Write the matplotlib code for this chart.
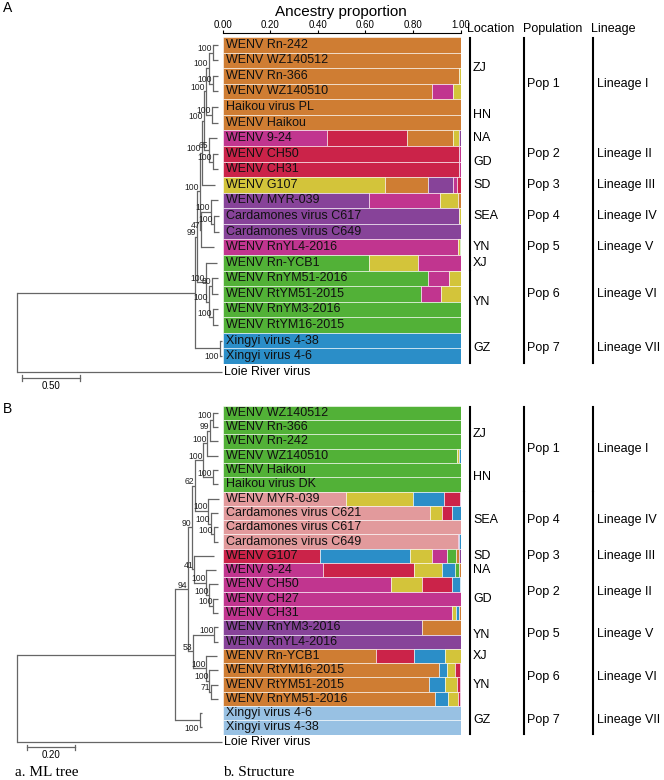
import numpy as np
import matplotlib
matplotlib.use("Agg")
import matplotlib.pyplot as plt

plt.rcParams['font.family'] = ['Liberation Sans', 'DejaVu Sans']

# ---------------- data ----------------
# panel A: STRUCTURE (K=7) ancestry proportions, one list per cluster
names_a = ['WENV Rn-242', 'WENV WZ140512', 'WENV Rn-366', 'WENV WZ140510', 'Haikou virus PL',
           'WENV Haikou', 'WENV 9-24', 'WENV CH50', 'WENV CH31', 'WENV G107', 'WENV MYR-039',
           'Cardamones virus C617', 'Cardamones virus C649', 'WENV RnYL4-2016', 'WENV Rn-YCB1',
           'WENV RnYM51-2016', 'WENV RtYM51-2015', 'WENV RnYM3-2016', 'WENV RtYM16-2015',
           'Xingyi virus 4-38', 'Xingyi virus 4-6']
a_orange = [1, 1, .995, .88, 1, 1, .19, 0, 0, .18, .011, 0, 0, 0, 0, 0, 0, 0, 0, 0, 0]
a_magenta = [0, 0, 0, .09, 0, 0, .44, .005, .005, .018, .298, 0, 0, .989, .179, .091, .084, 0, 0, 0, 0]
a_crimson = [0, 0, 0, 0, 0, 0, .337, .995, .995, .014, 0, 0, 0, 0, 0, 0, 0, 0, 0, 0, 0]
a_yellow = [0, 0, .005, .03, 0, 0, .027, 0, 0, .683, .077, .005, 0, .007, .204, .047, .08, 0, 0, 0, 0]
a_purple = [0, 0, 0, 0, 0, 0, .006, 0, 0, .105, .614, .995, 1, 0, 0, 0, 0, 0, 0, 0, 0]
a_green = [0, 0, 0, 0, 0, 0, 0, 0, 0, 0, 0, 0, 0, .004, .617, .862, .836, 1, 1, 0, 0]
a_blue = [0, 0, 0, 0, 0, 0, 0, 0, 0, 0, 0, 0, 0, 0, 0, 0, 0, 0, 0, 1, 1]

# panel B: STRUCTURE (K=9)
names_b = ['WENV WZ140512', 'WENV Rn-366', 'WENV Rn-242', 'WENV WZ140510', 'WENV Haikou',
           'Haikou virus DK', 'WENV MYR-039', 'Cardamones virus C621', 'Cardamones virus C617',
           'Cardamones virus C649', 'WENV G107', 'WENV 9-24', 'WENV CH50', 'WENV CH27', 'WENV CH31',
           'WENV RnYM3-2016', 'WENV RnYL4-2016', 'WENV Rn-YCB1', 'WENV RtYM16-2015',
           'WENV RtYM51-2015', 'WENV RnYM51-2016', 'Xingyi virus 4-6', 'Xingyi virus 4-38']
b_green = [1, 1, 1, .986, 1, 1, 0, 0, 0, 0, .035, .014, 0, 0, 0, 0, 0, 0, 0, 0, 0, 0, 0]
b_pink = [0, 0, 0, 0, 0, 0, .52, .872, 1, .99, 0, 0, 0, 0, 0, 0, 0, 0, 0, 0, 0, 0, 0]
b_crimson = [0, 0, 0, 0, 0, 0, .066, .042, 0, 0, .41, .38, .126, 0, 0, 0, 0, .16, .02, .013, .008, 0, 0]
b_magenta = [0, 0, 0, 0, 0, 0, .003, 0, 0, .005, .063, .424, .71, 1, .965, 0, 0, 0, .003, .003, .004, 0, 0]
b_purple = [0, 0, 0, 0, 0, 0, 0, 0, 0, 0, .008, 0, 0, 0, 0, .84, 1, 0, 0, 0, 0, 0, 0]
b_orange = [0, 0, 0, 0, 0, 0, 0, 0, 0, 0, .013, .008, 0, 0, .007, .16, 0, .644, .91, .868, .893, 0, 0]
b_yellow = [0, 0, 0, .007, 0, 0, .279, .052, 0, 0, .094, .12, .128, 0, .014, 0, 0, .066, .032, .05, .039, 0, 0]
b_blue = [0, 0, 0, .007, 0, 0, .132, .034, 0, .005, .377, .054, .034, 0, .014, 0, 0, .13, .035, .066, .056, 0, 0]
b_lightblue = [0] * 21 + [1, 1]

# ML trees (tips = row index, 'out' = Loie River virus), support values as node labels
tree_a = """((((((((((0:0.043,1:0.043)100:0.034,(2:0.043,3:0.043)100:0.034)100:0.026,
(4:0.052,5:0.052)100:0.052)100:0.017,(6:0.069,(7:0.043,8:0.043)100:0.034)65:0.043)100:0.017,
9:0.112)100:0.017,((10:0.060,(11:0.043,12:0.043)100:0.026)100:0.086,13:0.112)47:0.009)100:0.026,
(14:0.095,((15:0.052,16:0.052)80:0.026,(17:0.043,18:0.043)100:0.034)100:0.026)100:0.078)99:0.017,
(19:0.017,20:0.017)100:0.216):1.534,out:1.767);"""
tree_b = """(((((((((0:0.021,1:0.021)100:0.012,2:0.033)99:0.012,3:0.045)100:0.017,
(4:0.021,5:0.021)100:0.041)100:0.033,(6:0.045,(7:0.029,(8:0.017,9:0.017)100:0.012)100:0.012)100:0.054)62:0.012,
(10:0.083,(11:0.041,(12:0.037,(13:0.021,14:0.021)100:0.017)100:0.012)100:0.05)41:0.008)90:0.017,
((15:0.017,16:0.017)100:0.087,(17:0.045,(18:0.037,(19:0.029,20:0.029)71:0.008)100:0.012)100:0.054)53:0.021)94:0.054,
(21:0.01,22:0.01)100:0.103):0.653,out:0.847);"""
scale_a = 0.5
scale_b = 0.2

# group annotations (first row, last row)
loc_a = ['ZJ', 'HN', 'NA', 'GD', 'SD', 'SEA', 'YN', 'XJ', 'YN', 'GZ']
loc_a_rows = [(0, 3), (4, 5), (6, 6), (7, 8), (9, 9), (10, 12), (13, 13), (14, 14), (15, 18), (19, 20)]
pop_a = ['Pop 1', 'Pop 2', 'Pop 3', 'Pop 4', 'Pop 5', 'Pop 6', 'Pop 7']
lin_a = ['Lineage I', 'Lineage II', 'Lineage III', 'Lineage IV', 'Lineage V', 'Lineage VI', 'Lineage VII']
pop_a_rows = [(0, 5), (6, 8), (9, 9), (10, 12), (13, 13), (14, 18), (19, 20)]

loc_b = ['ZJ', 'HN', 'SEA', 'SD', 'NA', 'GD', 'YN', 'XJ', 'YN', 'GZ']
loc_b_rows = [(0, 3), (4, 5), (6, 9), (10, 10), (11, 11), (12, 14), (15, 16), (17, 17), (18, 20), (21, 22)]
pop_b = ['Pop 1', 'Pop 4', 'Pop 3', 'Pop 2', 'Pop 5', 'Pop 6', 'Pop 7']
lin_b = ['Lineage I', 'Lineage IV', 'Lineage III', 'Lineage II', 'Lineage V', 'Lineage VI', 'Lineage VII']
pop_b_rows = [(0, 5), (6, 9), (10, 10), (11, 14), (15, 16), (17, 20), (21, 22)]

col = {'orange': '#cf7d33', 'magenta': '#c1358f', 'crimson': '#cb2349', 'yellow': '#d3c43a',
       'purple': '#874399', 'green': '#52b137', 'blue': '#2b8ec8', 'pink': '#e29a9c',
       'lightblue': '#98c1e3'}
TREE_COL = '#666666'

W, H = 664, 780
fig = plt.figure(figsize=(W / 100, H / 100), dpi=100)


def px_axes(left, top, right, bottom):
    return fig.add_axes([left / W, 1 - bottom / H, (right - left) / W, (bottom - top) / H])


def parse_newick(s):
    s = ''.join(s.split())
    pos = 0

    def node():
        nonlocal pos
        children = []
        if s[pos] == '(':
            pos += 1
            children.append(node())
            while s[pos] == ',':
                pos += 1
                children.append(node())
            pos += 1
        start = pos
        while pos < len(s) and s[pos] not in ':,();':
            pos += 1
        label = s[start:pos]
        bl = 0.0
        if pos < len(s) and s[pos] == ':':
            pos += 1
            start = pos
            while s[pos] not in ',();':
                pos += 1
            bl = float(s[start:pos])
        return {'children': children, 'label': label, 'bl': bl}
    return node()


def layout(nd, x0, n):
    nd['x'] = x0 + nd['bl']
    if nd['children']:
        for c in nd['children']:
            layout(c, nd['x'], n)
        nd['y'] = np.mean([c['y'] for c in nd['children']])
    else:
        nd['y'] = n if nd['label'] == 'out' else int(nd['label'])


def draw_tree(ax, nd, n):
    kids = nd['children']
    for c in kids:
        ax.plot([nd['x'], c['x']], [c['y'], c['y']], color=TREE_COL, lw=0.9, clip_on=False,
                solid_capstyle='butt')
        draw_tree(ax, c, n)
    if kids:
        ys = [c['y'] for c in kids]
        ax.plot([nd['x'], nd['x']], [min(ys), max(ys)], color=TREE_COL, lw=0.9, clip_on=False)
        if nd['label']:
            below = any((not c['children']) and c['label'] == str(n - 1) for c in kids)
            ax.annotate(nd['label'], (nd['x'], nd['y']), xytext=(-0.5, -6 if below else 3),
                        textcoords='offset points', ha='right', va='center', fontsize=6.2,
                        color='#222222')
    elif nd['label'] == 'out':
        ax.annotate('Loie River virus', (nd['x'], nd['y']), xytext=(1.5, 0),
                    textcoords='offset points', ha='left', va='center', fontsize=9)


def panel(top, rh, names, comps, tree, xmax, scale, scale_x0, locs, loc_rows, pops, lins, pop_rows,
          headers):
    n = len(names)
    # structure bars
    ax = px_axes(222.5, top, 460.5, top + rh * n)
    for i in range(n):
        parts = sorted([(v[i], c) for c, v in comps if v[i] > 0], key=lambda t: -t[0])
        left = 0
        for v, c in parts:
            ax.barh(i, v, left=left, height=1, color=col[c], edgecolor=(1, 1, 1, 0.65), linewidth=0.6)
            left += v
        ax.text(0.016, i, names[i], va='center', ha='left', fontsize=9, color='#111111')
    ax.set_xlim(0, 1)
    ax.set_ylim(n - 0.5, -0.5)
    ax.set_yticks([])
    for s in ['left', 'right', 'bottom']:
        ax.spines[s].set_visible(False)
    if headers:
        ax.spines['top'].set_position(('outward', 3))
        ax.spines['top'].set_linewidth(0.8)
        ax.xaxis.tick_top()
        ax.set_xticks(np.arange(0, 1.01, 0.2))
        ax.set_xticklabels(['%.2f' % t for t in np.arange(0, 1.01, 0.2)])
        ax.tick_params(axis='x', length=2, width=0.8, pad=0, labelsize=7)
    else:
        ax.spines['top'].set_visible(False)
        ax.set_xticks([])

    # ML tree
    tax = px_axes(17, top, 222.5, top + rh * (n + 2))
    root = parse_newick(tree)
    layout(root, 0.0, n)
    draw_tree(tax, root, n)
    tax.set_xlim(0, xmax)
    tax.set_ylim(n + 1.5, -0.5)
    tax.axis('off')
    sy = n + 0.4
    tax.plot([scale_x0, scale_x0 + scale], [sy, sy], color=TREE_COL, lw=0.9)
    for sx in [scale_x0, scale_x0 + scale]:
        tax.plot([sx, sx], [sy - 0.18, sy + 0.18], color=TREE_COL, lw=0.9)
    tax.text(scale_x0 + scale / 2, sy + 0.5, '%.2f' % scale, ha='center', va='center', fontsize=7)

    # location / population / lineage columns
    sax = px_axes(462, top, 664, top + rh * n)
    sax.set_xlim(462, 664)
    sax.set_ylim(n - 0.5, -0.5)
    sax.axis('off')
    g = 0.06
    for lab, (r0, r1) in zip(locs, loc_rows):
        sax.plot([470, 470], [r0 - 0.5 + g, r1 + 0.5 - g], color='black', lw=1.5, clip_on=False)
        sax.text(473, (r0 + r1) / 2, lab, va='center', ha='left', fontsize=9)
    for p, l, (r0, r1) in zip(pops, lins, pop_rows):
        sax.plot([524, 524], [r0 - 0.5 + g, r1 + 0.5 - g], color='black', lw=1.5, clip_on=False)
        sax.plot([593, 593], [r0 - 0.5 + g, r1 + 0.5 - g], color='black', lw=1.5, clip_on=False)
        sax.text(527, (r0 + r1) / 2, p, va='center', ha='left', fontsize=9)
        sax.text(597, (r0 + r1) / 2, l, va='center', ha='left', fontsize=9)
    if headers:
        for x, h in [(467, 'Location'), (523, 'Population'), (591, 'Lineage')]:
            sax.text(x, -1.0, h, va='center', ha='left', fontsize=9, clip_on=False)


panel(37, 15.57, names_a,
      [('orange', a_orange), ('magenta', a_magenta), ('crimson', a_crimson), ('yellow', a_yellow),
       ('purple', a_purple), ('green', a_green), ('blue', a_blue)],
      tree_a, 205.5 / 116, scale_a, 0.043, loc_a, loc_a_rows, pop_a, lin_a, pop_a_rows, True)

panel(405.7, 14.3, names_b,
      [('green', b_green), ('pink', b_pink), ('crimson', b_crimson), ('magenta', b_magenta),
       ('purple', b_purple), ('orange', b_orange), ('yellow', b_yellow), ('blue', b_blue),
       ('lightblue', b_lightblue)],
      tree_b, 205.5 / 242, scale_b, 0.041, loc_b, loc_b_rows, pop_b, lin_b, pop_b_rows, False)

fig.text(341 / W, 1 - 12 / H, 'Ancestry proportion', fontsize=11, va='center', ha='center')
fig.text(3 / W, 1 - 8 / H, 'A', fontsize=10, va='center', ha='left')
fig.text(3 / W, 1 - 409 / H, 'B', fontsize=10, va='center', ha='left')
fig.text(15 / W, 1 - 773 / H, 'a. ML tree', fontsize=11, va='center', ha='left', family='Liberation Serif')
fig.text(223 / W, 1 - 773 / H, 'b. Structure', fontsize=11, va='center', ha='left', family='Liberation Serif')

fig.savefig('out.png', dpi=100)
